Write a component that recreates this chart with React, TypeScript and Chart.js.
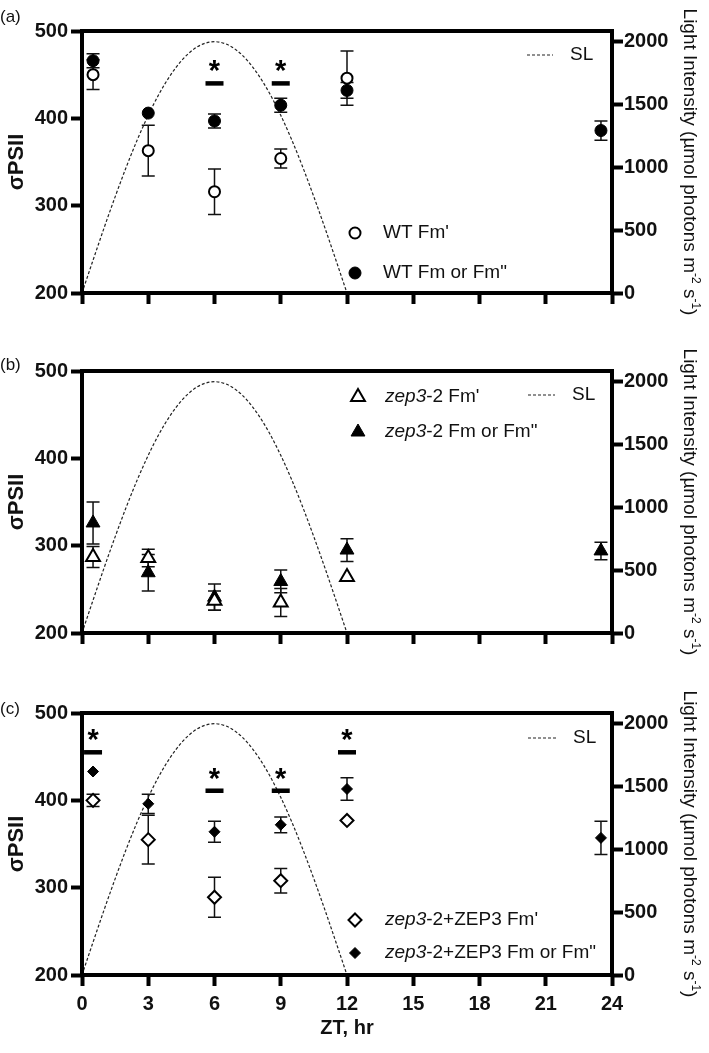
import React, { useEffect, useRef } from 'react';
import { Chart, registerables } from 'chart.js';

Chart.register(...registerables);

const FONT = '"Liberation Sans", Arial, Helvetica, sans-serif';

// ---------- data ----------
const X_MIN = 0;
const X_MAX = 24;
const X_TICKS = [0, 3, 6, 9, 12, 15, 18, 21, 24];
const LEFT_MIN = 200;
const LEFT_MAX = 500;
const LEFT_TICKS = [200, 300, 400, 500];
const RIGHT_MIN = 0;
const RIGHT_MAX = 2085;
const RIGHT_TICKS = [0, 500, 1000, 1500, 2000];

// simulated light (SL) curve
const SL_ZT = [0, 0.5, 1, 1.5, 2, 2.5, 3, 3.5, 4, 4.5, 5, 5.5, 6, 6.5, 7, 7.5, 8, 8.5, 9, 9.5, 10, 10.5, 11, 11.5, 12];
const SL_VALUES = [0, 261, 518, 765, 1000, 1218, 1414, 1587, 1732, 1848, 1932, 1983, 2000, 1983, 1932, 1848, 1732, 1587, 1414, 1218, 1000, 765, 518, 261, 0];

const ZT_PRIME = [0.5, 3, 6, 9, 12];
const ZT_DARK = [0.5, 3, 6, 9, 12, 23.5];

// (a) WT
const WT_FMP = [450, 363, 316, 354, 446];
const WT_FMP_ERR = [17, 29, 26, 11, 31];
const WT_FM = [466, 406, 397, 415, 432, 386];
const WT_FM_ERR = [8, 0, 8, 8, 9, 11];

// (b) zep3-2
const ZEP_FMP = [287, 286, 237, 235, 264];
const ZEP_FMP_ERR = [12, 10, 11, 16, 0];
const ZEP_FM = [326, 269, 241, 259, 295, 294];
const ZEP_FM_ERR = [24, 21, 15, 13, 13, 10];

// (c) zep3-2+ZEP3
const COMP_FMP = [400, 355, 289, 308, 377];
const COMP_FMP_ERR = [7, 28, 23, 14, 0];
const COMP_FM = [433, 396, 364, 372, 413, 357];
const COMP_FM_ERR = [0, 11, 12, 9, 13, 19];

// significance markers (bar position in σPSII units)
const SIG_A_ZT = [6, 9];
const SIG_A_Y = [440, 440];
const SIG_C_ZT = [0.5, 6, 9, 12];
const SIG_C_Y = [455, 411, 411, 455];

// texts
const LEFT_TITLE = 'σPSII';
const X_TITLE = 'ZT, hr';
const SL_LABEL = 'SL';
const RIGHT_TITLE_SEGS: [string, boolean][] = [
  ['Light Intensity (µmol photons m', false],
  ['-2', true],
  [' s', false],
  ['-1', true],
  [')', false],
];
const LEGEND_A_OPEN: [string, boolean][] = [["WT Fm'", false]];
const LEGEND_A_FILLED: [string, boolean][] = [['WT Fm or Fm"', false]];
const LEGEND_B_OPEN: [string, boolean][] = [['zep3', true], ["-2 Fm'", false]];
const LEGEND_B_FILLED: [string, boolean][] = [['zep3', true], ['-2 Fm or Fm"', false]];
const LEGEND_C_OPEN: [string, boolean][] = [['zep3', true], ["-2+ZEP3 Fm'", false]];
const LEGEND_C_FILLED: [string, boolean][] = [['zep3', true], ['-2+ZEP3 Fm or Fm"', false]];

// ---------- panel definitions (layout / style) ----------
type Series = { zt: number[]; v: number[]; e: number[]; style: string; r: number };
type PanelDef = {
  label: string;
  top: number;
  height: number;
  chartTop: number;
  chartBottom: number;
  labelY: number;
  showX: boolean;
  open: Series;
  filled: Series;
  sigZt: number[];
  sigY: number[];
  legOpen: [string, boolean][];
  legFilled: [string, boolean][];
  leg: { mx: number; tx: number; y1: number; y2: number };
  sl: { x1: number; x2: number; tx: number; y: number };
};

const PANELS: PanelDef[] = [
  {
    label: '(a)', top: 0, height: 335, chartTop: 31, chartBottom: 293, labelY: 17, showX: false,
    open: { zt: ZT_PRIME, v: WT_FMP, e: WT_FMP_ERR, style: 'circle', r: 5.5 },
    filled: { zt: ZT_DARK, v: WT_FM, e: WT_FM_ERR, style: 'circle', r: 6 },
    sigZt: SIG_A_ZT, sigY: SIG_A_Y,
    legOpen: LEGEND_A_OPEN, legFilled: LEGEND_A_FILLED,
    leg: { mx: 355, tx: 383, y1: 233, y2: 273 },
    sl: { x1: 527, x2: 553, tx: 570, y: 55 },
  },
  {
    label: '(b)', top: 335, height: 340, chartTop: 36, chartBottom: 298, labelY: 30, showX: false,
    open: { zt: ZT_PRIME, v: ZEP_FMP, e: ZEP_FMP_ERR, style: 'triangle', r: 8 },
    filled: { zt: ZT_DARK, v: ZEP_FM, e: ZEP_FM_ERR, style: 'triangle', r: 8 },
    sigZt: [], sigY: [],
    legOpen: LEGEND_B_OPEN, legFilled: LEGEND_B_FILLED,
    leg: { mx: 358, tx: 385, y1: 62, y2: 97 },
    sl: { x1: 528, x2: 555, tx: 572, y: 60 },
  },
  {
    label: '(c)', top: 675, height: 378, chartTop: 38, chartBottom: 300, labelY: 34, showX: true,
    open: { zt: ZT_PRIME, v: COMP_FMP, e: COMP_FMP_ERR, style: 'rectRot', r: 6.5 },
    filled: { zt: ZT_DARK, v: COMP_FM, e: COMP_FM_ERR, style: 'rectRot', r: 5.5 },
    sigZt: SIG_C_ZT, sigY: SIG_C_Y,
    legOpen: LEGEND_C_OPEN, legFilled: LEGEND_C_FILLED,
    leg: { mx: 355, tx: 385, y1: 245, y2: 278 },
    sl: { x1: 528, x2: 556, tx: 573, y: 63 },
  },
];

const CANVAS_W = 709;
const PLOT_LEFT = 82;
const PLOT_RIGHT = 612;

function drawMarker(ctx: CanvasRenderingContext2D, style: string, x: number, y: number, r: number, filled: boolean) {
  ctx.save();
  ctx.beginPath();
  if (style === 'circle') {
    ctx.arc(x, y, r, 0, Math.PI * 2);
  } else if (style === 'triangle') {
    let a = 0;
    ctx.moveTo(x + Math.sin(a) * r, y - Math.cos(a) * r);
    a += (2 * Math.PI) / 3;
    ctx.lineTo(x + Math.sin(a) * r, y - Math.cos(a) * r);
    a += (2 * Math.PI) / 3;
    ctx.lineTo(x + Math.sin(a) * r, y - Math.cos(a) * r);
    ctx.closePath();
  } else {
    ctx.moveTo(x, y - r);
    ctx.lineTo(x + r, y);
    ctx.lineTo(x, y + r);
    ctx.lineTo(x - r, y);
    ctx.closePath();
  }
  ctx.fillStyle = filled ? '#000' : '#fff';
  ctx.fill();
  ctx.lineWidth = filled ? 1 : 2;
  ctx.strokeStyle = '#000';
  ctx.stroke();
  ctx.restore();
}

function drawSegs(ctx: CanvasRenderingContext2D, segs: [string, boolean][], x: number, y: number, size: number) {
  let cx = x;
  ctx.textBaseline = 'middle';
  ctx.textAlign = 'left';
  ctx.fillStyle = '#111';
  for (const [t, it] of segs) {
    ctx.font = `${it ? 'italic ' : ''}${size}px ${FONT}`;
    ctx.fillText(t, cx, y);
    cx += ctx.measureText(t).width;
  }
}

function makePlugin(p: PanelDef) {
  return {
    id: 'panelDeco',
    beforeDatasetsDraw(chart: any) {
      const ctx: CanvasRenderingContext2D = chart.ctx;
      const xs = chart.scales.x;
      const ys = chart.scales.y;
      ctx.save();
      ctx.strokeStyle = '#111';
      ctx.lineWidth = 1.5;
      for (const s of [p.filled, p.open]) {
        s.zt.forEach((z, i) => {
          if (!s.e[i]) return;
          const x = xs.getPixelForValue(z);
          const y1 = ys.getPixelForValue(s.v[i] + s.e[i]);
          const y2 = ys.getPixelForValue(s.v[i] - s.e[i]);
          ctx.beginPath();
          ctx.moveTo(x, y1);
          ctx.lineTo(x, y2);
          ctx.moveTo(x - 6.5, y1);
          ctx.lineTo(x + 6.5, y1);
          ctx.moveTo(x - 6.5, y2);
          ctx.lineTo(x + 6.5, y2);
          ctx.stroke();
        });
      }
      ctx.restore();
    },
    afterDatasetsDraw(chart: any) {
      const ctx: CanvasRenderingContext2D = chart.ctx;
      const a = chart.chartArea;
      const xs = chart.scales.x;
      const ys = chart.scales.y;
      ctx.save();
      // frame
      ctx.strokeStyle = '#000';
      ctx.lineWidth = 4;
      ctx.strokeRect(a.left, a.top, a.right - a.left, a.bottom - a.top);

      // significance bars + stars
      ctx.font = `bold 100px ${FONT}`;
      const m = ctx.measureText('*');
      const h100 = m.actualBoundingBoxAscent + m.actualBoundingBoxDescent;
      const starSize = (100 * 11) / h100;
      p.sigZt.forEach((z, i) => {
        const x = xs.getPixelForValue(z);
        const y = ys.getPixelForValue(p.sigY[i]);
        ctx.lineWidth = 4.5;
        ctx.beginPath();
        ctx.moveTo(x - 9, y);
        ctx.lineTo(x + 9, y);
        ctx.stroke();
        ctx.font = `bold ${starSize}px ${FONT}`;
        const mm = ctx.measureText('*');
        const cy = y - 17;
        const by = cy + (mm.actualBoundingBoxAscent - mm.actualBoundingBoxDescent) / 2;
        ctx.textAlign = 'center';
        ctx.textBaseline = 'alphabetic';
        ctx.fillStyle = '#000';
        ctx.fillText('*', x, by);
      });

      // legend markers + text
      drawMarker(ctx, p.open.style, p.leg.mx, p.leg.y1, p.open.r, false);
      drawMarker(ctx, p.filled.style, p.leg.mx, p.leg.y2, p.filled.r, true);
      drawSegs(ctx, p.legOpen, p.leg.tx, p.leg.y1, 19);
      drawSegs(ctx, p.legFilled, p.leg.tx, p.leg.y2, 19);

      // SL legend
      ctx.strokeStyle = '#222';
      ctx.lineWidth = 1.2;
      ctx.setLineDash([3, 2]);
      ctx.beginPath();
      ctx.moveTo(p.sl.x1, p.sl.y);
      ctx.lineTo(p.sl.x2, p.sl.y);
      ctx.stroke();
      ctx.setLineDash([]);
      drawSegs(ctx, [[SL_LABEL, false]], p.sl.tx, p.sl.y, 19);

      // panel label
      ctx.font = `17px ${FONT}`;
      ctx.fillStyle = '#111';
      ctx.textAlign = 'left';
      ctx.textBaseline = 'middle';
      ctx.fillText(p.label, 0, p.labelY);

      // right axis title with superscripts
      const cy = (a.top + a.bottom) / 2;
      ctx.translate(684, cy);
      ctx.rotate(Math.PI / 2);
      ctx.textBaseline = 'alphabetic';
      let total = 0;
      const widths: number[] = [];
      for (const [t, sup] of RIGHT_TITLE_SEGS) {
        ctx.font = sup ? `12px ${FONT}` : `19px ${FONT}`;
        const w = ctx.measureText(t).width;
        widths.push(w);
        total += w;
      }
      let x = -total / 2;
      RIGHT_TITLE_SEGS.forEach(([t, sup], i) => {
        ctx.font = sup ? `12px ${FONT}` : `19px ${FONT}`;
        ctx.fillText(t, x, sup ? -8 : 0);
        x += widths[i];
      });
      ctx.restore();
    },
  };
}

function fixedTicks(values: number[]) {
  return (s: any) => {
    s.ticks = values.map((v) => ({ value: v }));
  };
}

function buildConfig(p: PanelDef): any {
  const tickFont = { family: FONT, size: 20, weight: 'bold' as const };
  const grid = { drawOnChartArea: false, drawTicks: true, tickLength: 11, tickWidth: 4, tickColor: '#000' };
  return {
    type: 'scatter',
    data: {
      datasets: [
        {
          label: 'open',
          data: p.open.zt.map((z, i) => ({ x: z, y: p.open.v[i] })),
          yAxisID: 'y',
          pointStyle: p.open.style,
          pointRadius: p.open.r,
          backgroundColor: '#fff',
          borderColor: '#000',
          borderWidth: 2,
          showLine: false,
        },
        {
          label: 'filled',
          data: p.filled.zt.map((z, i) => ({ x: z, y: p.filled.v[i] })),
          yAxisID: 'y',
          pointStyle: p.filled.style,
          pointRadius: p.filled.r,
          backgroundColor: '#000',
          borderColor: '#000',
          borderWidth: 1,
          showLine: false,
        },
        {
          label: SL_LABEL,
          type: 'line',
          data: SL_ZT.map((z, i) => ({ x: z, y: SL_VALUES[i] })),
          yAxisID: 'y1',
          borderColor: '#222',
          borderWidth: 1.2,
          borderDash: [3, 2],
          pointRadius: 0,
          fill: false,
          cubicInterpolationMode: 'monotone',
        },
      ],
    },
    options: {
      responsive: false,
      animation: false,
      events: [],
      layout: { padding: { top: p.chartTop, left: 0, right: 0, bottom: 0 } },
      plugins: { legend: { display: false }, tooltip: { enabled: false } },
      scales: {
        x: {
          type: 'linear',
          position: 'bottom',
          min: X_MIN,
          max: X_MAX,
          border: { display: false },
          grid,
          afterBuildTicks: fixedTicks(X_TICKS),
          ticks: {
            color: '#111',
            font: tickFont,
            padding: 6,
            maxRotation: 0,
            autoSkip: false,
            callback: (v: number) => (p.showX ? String(v) : ''),
          },
          title: {
            display: p.showX,
            text: X_TITLE,
            color: '#111',
            font: { family: FONT, size: 20, weight: 'bold' },
            padding: { top: 0, bottom: 13 },
          },
          afterFit: (s: any) => {
            s.height = p.height - p.chartBottom;
          },
        },
        y: {
          type: 'linear',
          position: 'left',
          min: LEFT_MIN,
          max: LEFT_MAX,
          border: { display: false },
          grid,
          afterBuildTicks: fixedTicks(LEFT_TICKS),
          ticks: { color: '#111', font: tickFont, padding: 3, autoSkip: false, callback: (v: number) => String(v) },
          title: {
            display: true,
            text: LEFT_TITLE,
            color: '#111',
            font: { family: FONT, size: 22, weight: 'bold' },
            padding: { top: 4, bottom: 0 },
          },
          afterFit: (s: any) => {
            s.width = PLOT_LEFT;
          },
        },
        y1: {
          type: 'linear',
          position: 'right',
          min: RIGHT_MIN,
          max: RIGHT_MAX,
          border: { display: false },
          grid,
          afterBuildTicks: fixedTicks(RIGHT_TICKS),
          ticks: { color: '#111', font: tickFont, padding: 1, autoSkip: false, callback: (v: number) => String(v) },
          afterFit: (s: any) => {
            s.width = CANVAS_W - PLOT_RIGHT;
          },
        },
      },
    },
    plugins: [makePlugin(p)],
  };
}

function PanelChart({ panel }: { panel: PanelDef }) {
  const ref = useRef<HTMLCanvasElement>(null);
  useEffect(() => {
    if (!ref.current) return;
    const chart = new Chart(ref.current, buildConfig(panel));
    return () => chart.destroy();
  }, [panel]);
  return (
    <canvas
      ref={ref}
      width={CANVAS_W}
      height={panel.height}
      style={{ position: 'absolute', left: 0, top: panel.top, width: CANVAS_W, height: panel.height, display: 'block' }}
    />
  );
}

export default function App() {
  return (
    <div style={{ position: 'absolute', left: 0, top: 0, width: CANVAS_W, height: 1053, background: '#fff' }}>
      {PANELS.map((p) => (
        <PanelChart key={p.label} panel={p} />
      ))}
    </div>
  );
}
